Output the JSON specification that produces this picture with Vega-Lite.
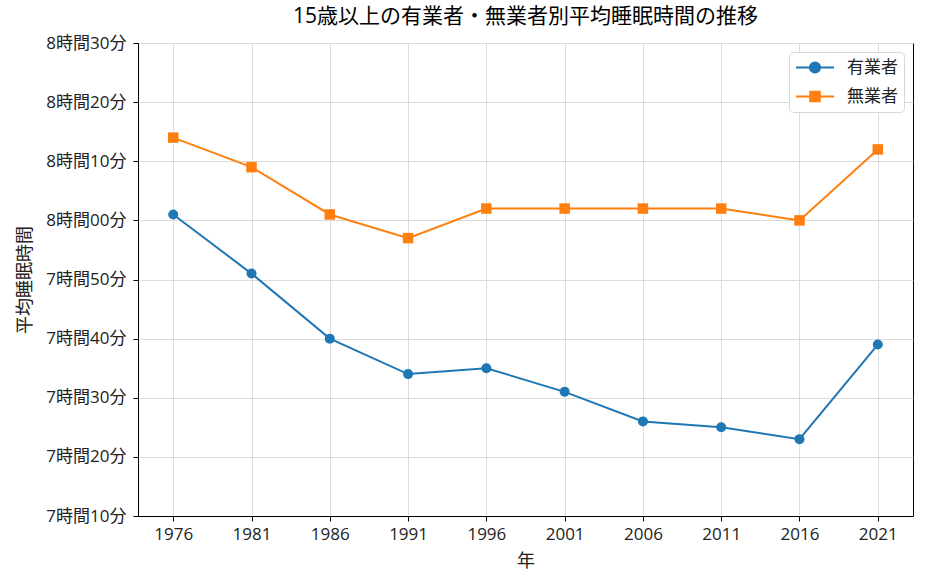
{
  "$schema": "https://vega.github.io/schema/vega-lite/v6.json",
  "width": 775,
  "height": 473,
  "autosize": {"type": "none"},
  "padding": {"left": 138, "top": 43, "right": 12, "bottom": 72},
  "background": "white",
  "title": {
    "text": "15歳以上の有業者・無業者別平均睡眠時間の推移",
    "font": "'Open Sans', 'Noto Sans CJK JP'",
    "fontSize": 21,
    "fontWeight": "normal",
    "color": "black",
    "anchor": "middle",
    "offset": 7
  },
  "config": {
    "font": "'Open Sans', 'Noto Sans CJK JP'",
    "view": {"stroke": "black", "strokeWidth": 1},
    "axis": {
      "domainColor": "black",
      "tickColor": "black",
      "tickSize": 5,
      "labelColor": "#222",
      "labelFontSize": 17,
      "titleFontSize": 18,
      "titleFontWeight": "normal",
      "titleColor": "#222",
      "gridColor": "#dcdcdc",
      "gridWidth": 1
    },
    "legend": {
      "orient": "top-right",
      "offset": 9,
      "padding": 6,
      "strokeColor": "#d8d8d8",
      "cornerRadius": 4,
      "fillColor": "white",
      "labelFontSize": 17,
      "labelColor": "#222",
      "symbolSize": 289,
      "symbolOffset": 10.5,
      "symbolOpacity": 1,
      "symbolStrokeWidth": 2,
      "labelOffset": 22.5,
      "rowPadding": 10
    }
  },
  "data": {
    "values": [
      {"year": 1976, "group": "有業者", "minutes": 481},
      {"year": 1981, "group": "有業者", "minutes": 471},
      {"year": 1986, "group": "有業者", "minutes": 460},
      {"year": 1991, "group": "有業者", "minutes": 454},
      {"year": 1996, "group": "有業者", "minutes": 455},
      {"year": 2001, "group": "有業者", "minutes": 451},
      {"year": 2006, "group": "有業者", "minutes": 446},
      {"year": 2011, "group": "有業者", "minutes": 445},
      {"year": 2016, "group": "有業者", "minutes": 443},
      {"year": 2021, "group": "有業者", "minutes": 459},
      {"year": 1976, "group": "無業者", "minutes": 494},
      {"year": 1981, "group": "無業者", "minutes": 489},
      {"year": 1986, "group": "無業者", "minutes": 481},
      {"year": 1991, "group": "無業者", "minutes": 477},
      {"year": 1996, "group": "無業者", "minutes": 482},
      {"year": 2001, "group": "無業者", "minutes": 482},
      {"year": 2006, "group": "無業者", "minutes": 482},
      {"year": 2011, "group": "無業者", "minutes": 482},
      {"year": 2016, "group": "無業者", "minutes": 480},
      {"year": 2021, "group": "無業者", "minutes": 492}
    ]
  },
  "encoding": {
    "x": {
      "field": "year",
      "type": "quantitative",
      "title": "年",
      "scale": {"domain": [1973.75, 2023.25], "nice": false, "zero": false},
      "axis": {
        "values": [1976, 1981, 1986, 1991, 1996, 2001, 2006, 2011, 2016, 2021],
        "format": "d",
        "labelPadding": 5,
        "titlePadding": 10,
        "labelFlush": false
      }
    },
    "y": {
      "field": "minutes",
      "type": "quantitative",
      "title": "平均睡眠時間",
      "scale": {"domain": [430, 510], "nice": false, "zero": false},
      "axis": {
        "values": [430, 440, 450, 460, 470, 480, 490, 500, 510],
        "labelExpr": "floor(datum.value / 60) + '時間' + (datum.value % 60 < 10 ? '0' : '') + (datum.value % 60) + '分'",
        "labelPadding": 7,
        "titlePadding": 11
      }
    },
    "color": {
      "field": "group",
      "type": "nominal",
      "title": null,
      "scale": {"domain": ["有業者", "無業者"], "range": ["#1f77b4", "#ff7f0e"]},
      "legend": {
        "encode": {
          "symbols": {
            "update": {
              "shape": {"signal": "datum.value === '有業者' ? 'M-2.24,0H2.24M0.6,0A0.6,0.6 0 1,1 -0.6,0A0.6,0.6 0 1,1 0.6,0Z' : 'M-2.24,0H2.24M-0.56,-0.56H0.56V0.56H-0.56Z'"},
              "strokeWidth": {"value": 2}
            }
          }
        }
      }
    }
  },
  "layer": [
    {
      "mark": {"type": "line", "strokeWidth": 2}
    },
    {
      "transform": [{"filter": {"field": "group", "equal": "有業者"}}],
      "mark": {"type": "point", "shape": "circle", "filled": true, "opacity": 1, "size": 100}
    },
    {
      "transform": [{"filter": {"field": "group", "equal": "無業者"}}],
      "mark": {"type": "point", "shape": "square", "filled": true, "opacity": 1, "size": 110}
    }
  ]
}
